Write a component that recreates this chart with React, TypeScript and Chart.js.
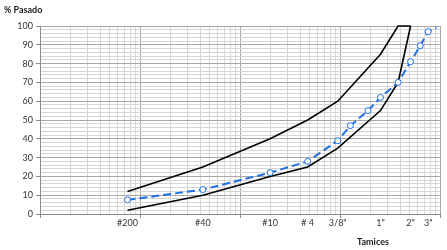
import { useEffect, useRef } from "react";
import { Chart, registerables } from "chart.js";

Chart.register(...registerables);

// Sieve labels and their openings (mm)
const sieveLabels = ["#200", "#40", "#10", "# 4", "3/8\"", "1\"", "2\"", "3\""];
const sieveSizes = [0.075, 0.425, 2, 4.75, 9.5, 25.4, 50.8, 76.2];

// Upper limit of the band
const upperSizes = [0.075, 0.425, 2, 4.75, 9.5, 25.4, 38.1, 50.8];
const upperValues = [12, 25, 40, 50, 60, 85, 100, 100];

// Lower limit of the band
const lowerSizes = [0.075, 0.425, 2, 4.75, 9.5, 25.4, 38.1, 50.8];
const lowerValues = [2, 10, 20, 25, 35, 55, 70, 100];

// Sample curve
const sampleSizes = [0.075, 0.425, 2, 4.75, 9.5, 12.7, 19.05, 25.4, 38.1, 50.8, 63.5, 76.2, 92];
const sampleValues = [7.5, 13, 22, 28, 39, 47, 55, 62, 70, 81, 89.5, 97, 99];
const sampleMarkers = [1, 1, 1, 1, 1, 1, 1, 1, 1, 1, 1, 1, 0];

// Y tick labels
const yTickLabels = [0, 10, 20, 30, 40, 50, 60, 70, 80, 90, 100];

const yTitle = "% Pasado";
const xTitle = "Tamices";

const FONT = "Lato, 'DejaVu Sans', sans-serif";
const BLUE = "#1f6fe0";
const MINOR = "#d6d6d6";
const MAJOR = "#a8a8a8";

const xGridValues: number[] = [];
[0.01, 0.1, 1, 10].forEach((d) => {
  for (let k = 1; k < 10; k++) xGridValues.push(+(k * d).toPrecision(3));
});
xGridValues.push(100);
const decades = [0.01, 0.1, 1, 10, 100];

const yGridValues: number[] = [];
for (let v = 0; v <= 100; v += 2) yGridValues.push(v);

const toXY = (xs: number[], ys: number[]) => xs.map((x, i) => ({ x, y: ys[i] }));

const textPlugin = {
  id: "extraTexts",
  afterDraw(chart: any) {
    const ctx = chart.ctx;
    ctx.save();
    ctx.fillStyle = "#1a1a1a";
    ctx.font = `bold 9px ${FONT}`;
    ctx.textBaseline = "middle";
    ctx.textAlign = "left";
    ctx.fillText(yTitle, 4, 10);
    ctx.textAlign = "center";
    ctx.fillText(xTitle, 373, 242);
    ctx.restore();
  },
};

export default function App() {
  const ref = useRef<HTMLCanvasElement>(null);
  useEffect(() => {
    const chart = new Chart(ref.current as HTMLCanvasElement, {
      type: "scatter",
      data: {
        datasets: [
          {
            data: toXY(sampleSizes, sampleValues),
            showLine: true,
            borderColor: BLUE,
            borderWidth: 2,
            borderDash: [8, 4],
            pointRadius: sampleMarkers.map((m) => (m ? 3 : 0)),
            pointBackgroundColor: "#ffffff",
            pointBorderColor: BLUE,
            pointBorderWidth: 1,
            tension: 0,
            clip: false,
          } as any,
          {
            data: toXY(upperSizes, upperValues),
            showLine: true,
            borderColor: "#000000",
            borderWidth: 1.6,
            pointRadius: 0,
            tension: 0,
            clip: false,
          } as any,
          {
            data: toXY(lowerSizes, lowerValues),
            showLine: true,
            borderColor: "#000000",
            borderWidth: 1.6,
            pointRadius: 0,
            tension: 0,
            clip: false,
          } as any,
        ],
      },
      options: {
        responsive: false,
        animation: false,
        layout: { padding: { left: 0, right: 7, top: 26, bottom: 0 } },
        plugins: {
          legend: { display: false },
          tooltip: { enabled: false },
        },
        scales: {
          x: {
            type: "logarithmic",
            position: "bottom",
            weight: 0,
            min: 0.01,
            max: 100,
            afterBuildTicks: (scale: any) => {
              scale.ticks = xGridValues.map((v) => ({ value: v }));
            },
            afterFit: (scale: any) => {
              scale.height = 4;
            },
            ticks: { display: false, autoSkip: false },
            grid: {
              color: (c: any) =>
                decades.some((d) => Math.abs(c.tick.value - d) < 1e-9) ? MAJOR : MINOR,
              lineWidth: 1,
              tickLength: 4,
              tickColor: (c: any) =>
                decades.some((d) => Math.abs(c.tick.value - d) < 1e-9) ? "#8c8c8c" : "rgba(0,0,0,0)",
            },
            border: { display: true, color: "#8c8c8c", width: 1 },
          },
          x2: {
            type: "logarithmic",
            position: "bottom",
            weight: 1,
            min: 0.01,
            max: 100,
            afterBuildTicks: (scale: any) => {
              scale.ticks = sieveSizes.map((v) => ({ value: v }));
            },
            afterFit: (scale: any) => {
              scale.height = 32;
            },
            ticks: {
              autoSkip: false,
              maxRotation: 0,
              padding: 0,
              color: "#333333",
              font: { family: FONT, size: 9 },
              callback: (_v: any, i: number) => sieveLabels[i],
            },
            grid: { display: false, drawTicks: false, tickLength: 0 },
            border: { display: false },
          },
          y: {
            type: "linear",
            min: 0,
            max: 100,
            afterBuildTicks: (scale: any) => {
              scale.ticks = yGridValues.map((v) => ({ value: v }));
            },
            afterFit: (scale: any) => {
              scale.width = 40;
            },
            ticks: {
              autoSkip: false,
              padding: 3,
              color: "#333333",
              font: { family: FONT, size: 9 },
              callback: (v: any) => (yTickLabels.includes(v) ? String(v) : ""),
            },
            grid: {
              color: (c: any) => (c.tick.value % 10 === 0 ? MAJOR : MINOR),
              lineWidth: 1,
              tickLength: 4,
              tickColor: (c: any) => (c.tick.value % 10 === 0 ? "#8c8c8c" : "rgba(0,0,0,0)"),
            },
            border: { display: true, color: "#8c8c8c", width: 1 },
          },
        },
      } as any,
      plugins: [textPlugin],
    });
    return () => chart.destroy();
  }, []);
  return (
    <div style={{ position: "fixed", left: 0, top: 0, width: 447, height: 250, background: "#ffffff" }}>
      <canvas ref={ref} width={447} height={250} style={{ display: "block" }} />
    </div>
  );
}
